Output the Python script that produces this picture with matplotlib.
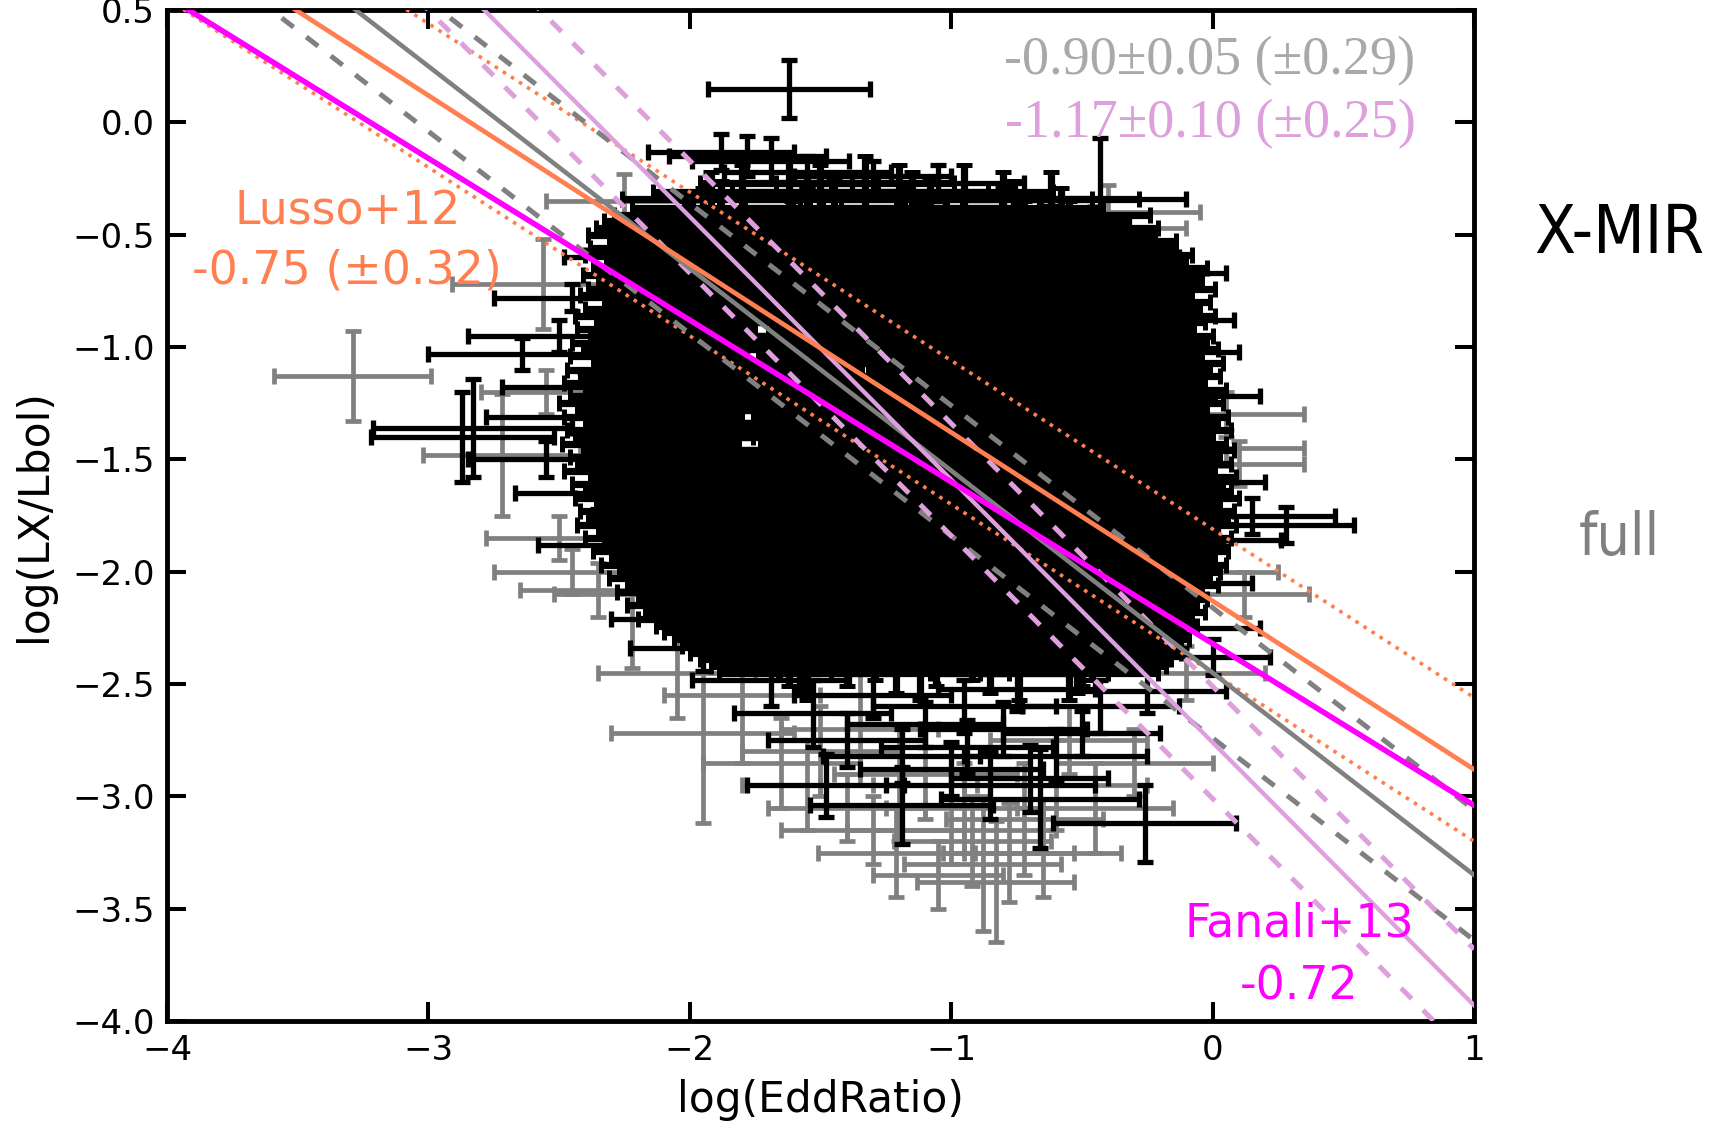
import numpy as np
import matplotlib
matplotlib.use("Agg")
import matplotlib.pyplot as plt

# ---- fitted relations (slope, intercept at log(EddRatio)=0, scatter) ----
lusso_slope, lusso_icpt, lusso_scatter = -0.75, -2.13, 0.32
fanali_slope, fanali_icpt = -0.72, -2.32
full_slope, full_icpt, full_scatter = -0.90, -2.45, 0.29
xmir_slope, xmir_icpt, xmir_scatter = -1.17, -2.76, 0.25

# ---- isolated sources: (x, y, xerr, yerr) ----
black_pts = [
    (-1.62, 0.15, 0.31, 0.13), (-1.88, -0.13, 0.28, 0.08), (-1.78, -0.15, 0.30, 0.09),
    (-1.69, -0.17, 0.30, 0.10), (-1.55, -0.22, 0.32, 0.07), (-1.30, -0.24, 0.30, 0.07),
    (-1.05, -0.27, 0.33, 0.08), (-0.43, -0.34, 0.33, 0.27), (-0.62, -0.45, 0.30, 0.08),
    (-0.45, -0.60, 0.32, 0.07), (-0.28, -0.67, 0.33, 0.08), (-0.22, -0.88, 0.30, 0.07),
    (-0.18, -1.02, 0.28, 0.08), (-0.12, -1.22, 0.30, 0.06), (-0.10, -1.60, 0.30, 0.07),
    (0.15, -1.75, 0.32, 0.08), (0.28, -1.79, 0.26, 0.08), (-0.02, -1.86, 0.28, 0.10),
    (-0.15, -2.05, 0.30, 0.08), (0.00, -2.38, 0.22, 0.08), (-0.12, -2.25, 0.30, 0.09),
    (-0.25, -2.53, 0.30, 0.10), (-0.43, -2.60, 0.30, 0.12), (-0.60, -2.82, 0.35, 0.12),
    (-0.85, -2.95, 0.40, 0.15), (-0.66, -3.01, 0.38, 0.22), (-0.26, -3.12, 0.35, 0.17),
    (-1.19, -3.04, 0.35, 0.17), (-1.19, -2.82, 0.30, 0.12), (-0.94, -2.78, 0.33, 0.12),
    (-1.48, -2.95, 0.30, 0.14), (-1.53, -2.63, 0.30, 0.15), (-1.69, -2.48, 0.30, 0.12),
    (-1.95, -2.34, 0.28, 0.10), (-2.00, -2.21, 0.30, 0.08), (-2.64, -1.03, 0.36, 0.07),
    (-2.83, -1.36, 0.38, 0.22), (-2.87, -1.40, 0.35, 0.20), (-2.38, -1.31, 0.40, 0.08),
    (-2.45, -0.78, 0.30, 0.06), (-2.50, -0.95, 0.35, 0.07), (-2.40, -1.18, 0.32, 0.07),
    (-2.55, -1.50, 0.30, 0.08), (-2.35, -1.65, 0.32, 0.07), (-2.28, -1.88, 0.30, 0.08),
    (-2.20, -0.60, 0.28, 0.06), (-1.30, -2.55, 0.30, 0.10), (-0.95, -2.60, 0.35, 0.12),
    (-0.75, -2.52, 0.30, 0.10), (-1.10, -2.68, 0.30, 0.10), (-0.80, -2.70, 0.32, 0.12),
    (-0.50, -2.72, 0.30, 0.10), (-1.40, -2.75, 0.30, 0.12), (-1.00, -2.88, 0.35, 0.12),
    (-0.70, -2.92, 0.30, 0.15),
]

gray_pts = [
    (-3.29, -1.13, 0.30, 0.20), (-2.72, -1.48, 0.30, 0.27), (-2.56, -0.72, 0.35, 0.20),
    (-2.25, -0.35, 0.30, 0.12), (-1.95, -2.72, 0.35, 0.40), (-2.22, -2.10, 0.30, 0.33),
    (-2.50, -1.85, 0.28, 0.10), (-2.45, -2.00, 0.30, 0.10), (-2.35, -2.08, 0.30, 0.12),
    (-2.55, -1.20, 0.25, 0.10), (-0.88, -3.30, 0.30, 0.30), (-0.83, -3.38, 0.30, 0.27),
    (-0.78, -3.25, 0.25, 0.22), (-0.92, -3.20, 0.30, 0.20), (-1.21, -3.25, 0.30, 0.20),
    (-1.65, -2.85, 0.30, 0.20), (-1.55, -2.95, 0.25, 0.20), (-1.40, -3.05, 0.30, 0.15),
    (-1.30, -3.15, 0.35, 0.15), (-1.00, -3.15, 0.40, 0.15), (-0.65, -3.25, 0.30, 0.20),
    (-0.45, -3.05, 0.30, 0.20), (-0.45, -0.47, 0.35, 0.10), (-0.40, -0.40, 0.35, 0.12),
    (0.05, -1.30, 0.30, 0.10), (0.05, -1.45, 0.30, 0.08), (0.10, -1.52, 0.25, 0.10),
    (0.12, -2.10, 0.25, 0.10), (-0.05, -2.00, 0.30, 0.10), (-0.10, -2.45, 0.30, 0.12),
    (-1.35, -2.70, 0.30, 0.25), (-1.10, -2.90, 0.35, 0.20), (-0.55, -2.75, 0.30, 0.15),
    (-1.80, -2.55, 0.30, 0.30), (-2.05, -2.45, 0.30, 0.20), (-1.20, -2.95, 0.30, 0.25),
    (-0.95, -3.05, 0.30, 0.20), (-0.72, -3.10, 0.30, 0.25), (-1.50, -2.80, 0.30, 0.20),
    (-0.60, -2.95, 0.35, 0.20), (-0.30, -2.85, 0.30, 0.15), (-1.05, -3.35, 0.25, 0.15),
]

# ---- dense core of the X-MIR sample: (y, [x centres]) ----
core_xerr, core_yerr = 0.34, 0.12
core_rows = [
    (-0.27, [-1.62, -1.33]), (-0.31, [-1.80, -1.50, -1.20, -0.95]),
    (-0.34, [-1.92, -1.55, -1.15, -0.80, -0.62]),
    (-0.38, [-1.88, -1.45, -1.08, -0.76]), (-0.41, [-1.95, -1.55, -1.18, -0.80, -0.58]),
    (-0.44, [-1.99, -1.50, -1.02, -0.66]), (-0.47, [-2.02, -1.61, -1.12, -0.72, -0.55]),
    (-0.50, [-2.05, -1.40, -0.97, -0.56]), (-0.53, [-1.97, -1.52, -1.06, -0.68, -0.48]),
    (-0.56, [-2.04, -1.63, -0.98, -0.48]), (-0.59, [-2.06, -1.44, -1.10, -0.70, -0.42]),
    (-0.62, [-1.98, -1.55, -0.92, -0.44]), (-0.65, [-2.03, -1.36, -1.02, -0.66, -0.36]),
    (-0.68, [-2.07, -1.58, -1.14, -0.72, -0.40]), (-0.71, [-2.01, -1.47, -0.88, -0.38]),
    (-0.74, [-2.05, -1.62, -1.05, -0.64, -0.33]), (-0.77, [-2.08, -1.41, -0.95, -0.42]),
    (-0.80, [-1.99, -1.53, -1.12, -0.70, -0.35]), (-0.83, [-2.06, -1.66, -0.99, -0.39]),
    (-0.86, [-2.10, -1.44, -0.90, -0.33]), (-0.89, [-2.02, -1.58, -1.08, -0.68, -0.37]),
    (-0.92, [-2.09, -1.35, -0.96, -0.41]), (-0.95, [-2.04, -1.61, -1.15, -0.72, -0.34]),
    (-0.98, [-2.11, -1.49, -0.87, -0.36]), (-1.01, [-2.07, -1.63, -1.03, -0.62, -0.32]),
    (-1.04, [-2.12, -1.40, -0.93, -0.38]), (-1.07, [-2.03, -1.55, -1.11, -0.70, -0.30]),
    (-1.10, [-2.13, -1.68, -0.98, -0.60, -0.35]), (-1.13, [-2.08, -1.46, -0.89, -0.31]),
    (-1.16, [-2.14, -1.59, -1.07, -0.66, -0.37]), (-1.19, [-2.05, -1.37, -0.94, -0.29]),
    (-1.22, [-2.12, -1.64, -1.13, -0.72, -0.33]), (-1.25, [-2.16, -1.50, -0.86, -0.30]),
    (-1.28, [-2.09, -1.57, -1.01, -0.64, -0.36]), (-1.31, [-2.14, -1.42, -0.95, -0.28]),
    (-1.34, [-2.06, -1.66, -1.10, -0.69, -0.32]), (-1.37, [-2.13, -1.48, -0.90, -0.27]),
    (-1.40, [-2.10, -1.60, -1.04, -0.63, -0.34]), (-1.43, [-2.15, -1.39, -0.97, -0.60, -0.29]),
    (-1.46, [-2.07, -1.54, -1.12, -0.70, -0.26]), (-1.49, [-2.12, -1.67, -1.25, -0.88, -0.31]),
    (-1.52, [-2.09, -1.45, -1.00, -0.62, -0.27]), (-1.55, [-2.14, -1.58, -1.09, -0.68, -0.33]),
    (-1.58, [-2.04, -1.36, -0.93, -0.25]), (-1.61, [-2.11, -1.62, -1.14, -0.71, -0.30]),
    (-1.64, [-2.06, -1.49, -0.87, -0.27]), (-1.67, [-2.10, -1.56, -1.03, -0.62, -0.24]),
    (-1.70, [-2.02, -1.43, -0.96, -0.31]), (-1.73, [-2.08, -1.65, -1.11, -0.69, -0.26]),
    (-1.76, [-2.05, -1.38, -0.90, -0.28]), (-1.79, [-2.09, -1.53, -1.06, -0.66, -0.25]),
    (-1.82, [-2.01, -1.61, -0.98, -0.32]), (-1.85, [-2.06, -1.46, -1.13, -0.70, -0.27]),
    (-1.88, [-1.99, -1.57, -0.92, -0.30]), (-1.91, [-2.03, -1.41, -1.04, -0.64, -0.28]),
    (-1.94, [-1.96, -1.63, -0.99, -0.33]), (-1.97, [-2.00, -1.50, -1.10, -0.68, -0.29]),
    (-2.00, [-1.93, -1.37, -0.88, -0.31]), (-2.03, [-1.97, -1.55, -1.02, -0.66, -0.35]),
    (-2.06, [-1.90, -1.44, -0.94, -0.32]), (-2.09, [-1.94, -1.60, -1.08, -0.70, -0.38]),
    (-2.12, [-1.86, -1.39, -0.91, -0.36]), (-2.15, [-1.90, -1.52, -1.05, -0.67, -0.40]),
    (-2.18, [-1.83, -1.43, -0.97, -0.37]), (-2.21, [-1.86, -1.58, -1.11, -0.72, -0.42]),
    (-2.24, [-1.79, -1.36, -0.93, -0.40]), (-2.27, [-1.76, -1.49, -1.03, -0.45]),
    (-2.30, [-1.72, -1.33, -0.89, -0.43]), (-2.33, [-1.69, -1.45, -1.00, -0.48]),
    (-2.36, [-1.66, -1.29, -0.92, -0.46]), (-2.39, [-1.62, -1.40, -1.06, -0.50]),
    (-2.42, [-1.58, -1.21, -0.85, -0.52]), (-2.45, [-1.55, -1.12, -0.74, -0.55]),
]

xticks = [-4, -3, -2, -1, 0, 1]
yticks = [-4.0, -3.5, -3.0, -2.5, -2.0, -1.5, -1.0, -0.5, 0.0, 0.5]

plt.rcParams['font.family'] = ['DejaVu Sans']

fig = plt.figure(figsize=(17.25, 11.21), dpi=100)
ax = fig.add_axes([0.0968, 0.0892, 0.7577, 0.9018])

# gray = full sample (behind)
g = np.array(gray_pts)
ax.errorbar(g[:, 0], g[:, 1], xerr=g[:, 2], yerr=g[:, 3], fmt='o', ms=3,
            color='gray', ecolor='gray', elinewidth=3.4, capsize=5.5,
            capthick=3.4, zorder=1)

# black = X-MIR sample
core_x = [x for y, xs in core_rows for x in xs]
core_y = [y for y, xs in core_rows for x in xs]
ax.errorbar(core_x, core_y, xerr=core_xerr, yerr=core_yerr, fmt='o', ms=3,
            color='black', ecolor='black', elinewidth=5.2, capsize=5.5,
            capthick=3.6, zorder=2)
b = np.array(black_pts)
ax.errorbar(b[:, 0], b[:, 1], xerr=b[:, 2], yerr=b[:, 3], fmt='o', ms=4,
            color='black', ecolor='black', elinewidth=3.8, capsize=5.5,
            capthick=3.8, zorder=2)

# relations
xl = np.array([-4.0, 1.0])
for off in (-lusso_scatter, lusso_scatter):
    ax.plot(xl, lusso_slope * xl + lusso_icpt + off, ls=':', color='#ff7f50',
            lw=2.6, zorder=3)
for off in (-full_scatter, full_scatter):
    ax.plot(xl, full_slope * xl + full_icpt + off, color='gray', lw=3.6,
            dashes=(3, 3.2), zorder=3)
for off in (-xmir_scatter, xmir_scatter):
    ax.plot(xl, xmir_slope * xl + xmir_icpt + off, color='plum', lw=3.6,
            dashes=(3, 3.2), zorder=3)
ax.plot(xl, full_slope * xl + full_icpt, color='gray', lw=3.3, zorder=4)
ax.plot(xl, xmir_slope * xl + xmir_icpt, color='plum', lw=3.1, zorder=4)
ax.plot(xl, lusso_slope * xl + lusso_icpt, color='#ff7f50', lw=3.4, zorder=4)
ax.plot(xl, fanali_slope * xl + fanali_icpt, color='magenta', lw=4.0, zorder=5)

ax.set_xlim(-4, 1)
ax.set_ylim(-4, 0.5)
ax.set_xticks(xticks)
ax.set_yticks(yticks)
ax.set_xticklabels(['\u22124', '\u22123', '\u22122', '\u22121', '0', '1'])
ax.set_yticklabels(['\u2212%.1f' % abs(v) if v < 0 else '%.1f' % v for v in yticks])
ax.tick_params(direction='in', length=14, width=2.9, top=True, right=True,
               labelsize=24.5, pad=9)
for s in ax.spines.values():
    s.set_linewidth(3.5)
ax.set_xlabel('log(EddRatio)', fontsize=30.5, labelpad=9)
ax.set_ylabel('log(LX/Lbol)', fontsize=30.5, labelpad=12)

# annotations
ax.text(-3.31, -0.40, 'Lusso+12', color='#ff7f50', fontsize=33,
        ha='center', va='center', zorder=6)
ax.text(-3.31, -0.66, '-0.75 (\u00b10.32)', color='#ff7f50', fontsize=33,
        ha='center', va='center', zorder=6)
ax.text(0.33, -3.57, 'Fanali+13', color='magenta', fontsize=33,
        ha='center', va='center', zorder=6)
ax.text(0.33, -3.85, '-0.72', color='magenta', fontsize=33,
        ha='center', va='center', zorder=6)
ax.text(-0.01, 0.274, '-0.90\u00b10.05 (\u00b10.29)', color='darkgray',
        fontsize=39, family='Liberation Serif', ha='center', va='center', zorder=6)
ax.text(-0.01, -0.005, '-1.17\u00b10.10 (\u00b10.25)', color='plum',
        fontsize=39, family='Liberation Serif', ha='center', va='center', zorder=6)

fig.text(1619 / 1725, 1 - 234 / 1121, 'X-MIR', color='black', fontsize=48,
         fontstretch='condensed', ha='center', va='center')
fig.text(1619 / 1725, 1 - 539 / 1121, 'full', color='gray', fontsize=42,
         fontstretch='condensed', ha='center', va='center')

fig.savefig('out.png', dpi=100)
